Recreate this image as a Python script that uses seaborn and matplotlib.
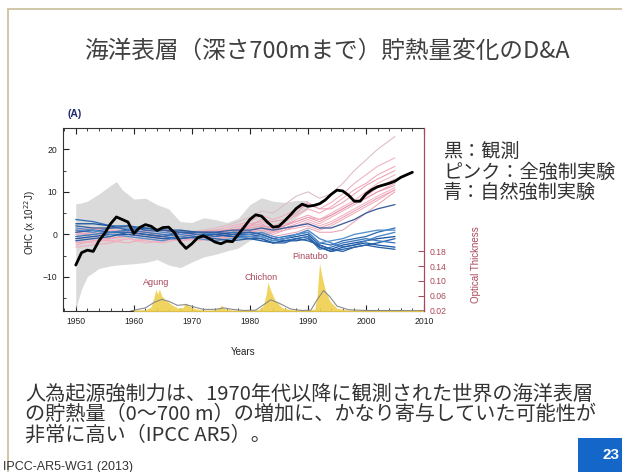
import numpy as np
import pandas as pd
import matplotlib.pyplot as plt
import seaborn as sns
from matplotlib.ticker import MultipleLocator
from matplotlib.lines import Line2D
from matplotlib.patches import Rectangle

# %%
# observed 0-700 m OHC anomaly (10^22 J)
obs_years = list(range(1950, 2009))
obs_ohc = [-7.2, -4.3, -3.7, -4.0, -1.5, 0.3, 2.5, 4.1, 3.5, 2.9,
           0.2, 1.6, 2.3, 1.9, 0.9, 1.6, 1.7, 0.4, -1.8, -3.3,
           -2.2, -0.8, -0.3, -1.0, -1.8, -2.2, -1.6, -1.7, 0.0, 1.7,
           3.5, 4.6, 4.3, 2.9, 1.7, 1.9, 3.2, 4.6, 6.1, 7.1,
           6.6, 6.8, 7.2, 8.1, 9.4, 10.4, 10.2, 9.2, 7.8, 7.8,
           9.5, 10.5, 11.2, 11.6, 12.0, 12.5, 13.4, 14.0, 14.6]

# grey observational uncertainty
env_years = [1950, 1951, 1952, 1954, 1956, 1957, 1958, 1960, 1962, 1964, 1966, 1968,
             1970, 1972, 1974, 1976, 1978, 1980, 1982, 1984, 1986, 1988, 1990]
env_upper = [7.2, 7.4, 7.8, 9.5, 11.5, 12.4, 10.5, 8.3, 8.5, 7.0, 6.0, 3.0,
             2.8, 3.9, 3.5, 2.8, 3.8, 7.0, 8.6, 7.8, 7.5, 8.0, 8.0]
env_lower = [-17.4, -12.8, -9.9, -8.0, -7.4, -7.2, -7.1, -6.9, -6.6, -5.9, -7.2, -7.8,
             -6.5, -5.3, -4.7, -3.9, -3.2, -1.4, -0.8, 0.5, 2.0, 4.0, 6.0]

# model runs
run_years = [1950, 1953, 1956, 1959, 1962, 1965, 1968, 1971, 1974, 1977, 1980, 1982,
             1984, 1986, 1988, 1990, 1992, 1994, 1996, 1998, 2000, 2002, 2005]

# all forcings (pink)
pink_01 = [-1.0, -0.5, 0.5, 1.0, 0.5, 0.0, 0.5, 0.8, 1.5, 2.5, 4.0, 5.5, 5.0, 7.0, 9.0, 10.0, 8.5, 9.5, 12.0, 15.0, 17.5, 20.0, 23.0]
pink_02 = [0.5, 0.0, -0.5, 0.5, 1.0, 0.5, 0.0, 0.5, 1.0, 2.0, 3.0, 4.5, 3.5, 4.5, 6.0, 7.0, 6.0, 7.5, 9.5, 12.0, 14.0, 16.0, 18.0]
pink_03 = [-2.0, -1.5, -1.0, -0.5, -1.0, -1.5, -0.5, 0.0, 0.5, 1.5, 2.5, 3.0, 2.0, 3.0, 4.5, 6.0, 5.0, 6.5, 8.5, 10.5, 12.0, 14.0, 16.0]
pink_04 = [1.0, 1.5, 1.0, 0.5, 0.0, -0.5, 0.5, 0.0, -0.5, 0.5, 2.0, 3.5, 3.0, 3.5, 5.0, 7.5, 6.0, 6.0, 7.5, 9.5, 11.5, 13.0, 15.0]
pink_05 = [-1.5, -2.0, -1.0, 0.0, -0.5, -1.0, -1.5, -1.0, 0.0, 0.5, 1.5, 2.0, 1.5, 2.5, 3.0, 4.0, 3.5, 5.0, 6.5, 8.0, 10.0, 12.0, 14.0]
pink_06 = [0.0, 0.5, 0.0, -0.5, 0.5, 0.0, -0.5, 0.5, 1.0, 1.0, 2.0, 2.5, 1.0, 2.0, 3.5, 4.5, 3.5, 4.5, 6.0, 7.5, 9.0, 11.0, 13.0]
pink_07 = [-3.0, -2.5, -2.0, -1.0, -1.5, -2.0, -1.0, -1.5, -1.0, 0.0, 1.0, 1.5, 0.5, 1.5, 2.5, 3.5, 2.5, 4.0, 5.5, 7.0, 8.5, 10.0, 12.0]
pink_08 = [1.0, 1.0, 0.5, 1.0, 0.5, -0.5, -1.0, -0.5, 0.0, 1.0, 1.5, 2.0, 1.5, 2.0, 3.0, 4.0, 3.0, 4.5, 6.0, 7.5, 8.5, 10.0, 11.5]
pink_09 = [-0.5, -1.0, -1.5, -1.0, -2.0, -1.5, -1.0, 0.0, -0.5, 0.0, 0.5, 1.5, 1.0, 1.5, 2.0, 3.0, 2.0, 3.0, 4.5, 6.0, 7.5, 9.0, 11.0]
pink_10 = [0.5, -0.5, -1.0, 0.0, 0.5, 1.0, 0.0, -0.5, -1.0, -0.5, 0.5, 1.0, 0.0, 1.0, 2.0, 2.5, 1.5, 2.5, 4.0, 5.5, 7.0, 8.5, 10.5]
pink_11 = [-2.5, -1.5, -1.5, -2.0, -1.0, -0.5, -1.5, -1.0, -0.5, 0.5, 1.0, 1.5, 0.5, 1.0, 1.5, 2.0, 1.0, 2.0, 3.5, 5.0, 6.5, 8.0, 10.5]
pink_12 = [0.5, 1.0, 1.5, 1.0, 0.0, -1.0, -0.5, -1.0, -1.5, -0.5, 0.0, 0.5, -0.5, 0.0, 0.5, 1.5, 0.5, 0.5, 1.0, 3.0, 5.0, 7.0, 10.0]

# natural forcings only (blue)
blue_01 = [3.5, 3.0, 2.0, 2.0, 1.5, 1.0, 0.5, 0.5, 0.0, 0.5, 0.5, 0.0, -1.0, -0.5, 0.0, 0.5, -2.0, -2.5, -1.5, -1.0, -0.5, 0.5, 1.5]
blue_02 = [2.5, 2.5, 2.0, 1.0, 1.5, 1.0, 1.0, 0.5, 0.5, 0.0, 0.0, -0.5, -1.5, -1.0, -0.5, 0.0, -2.5, -3.5, -2.5, -2.0, -1.5, -1.0, -0.5]
blue_03 = [1.0, 0.5, 1.5, 1.5, 1.0, 0.5, 0.0, 0.5, 0.0, -0.5, 0.0, 0.5, -0.5, -1.0, 0.0, 1.0, -1.0, -2.0, -3.0, -2.5, -1.5, -0.5, 0.5]
blue_04 = [0.5, 1.0, 0.5, 0.5, 0.0, -0.5, 0.5, 0.0, -0.5, 0.0, 0.5, 0.0, -1.0, -1.5, -1.0, -0.5, -3.0, -4.0, -3.5, -3.0, -2.5, -2.0, -1.0]
blue_05 = [-0.5, 0.0, 0.5, 1.0, 0.5, 0.0, -0.5, 0.0, 0.0, -0.5, -0.5, -1.0, -2.0, -1.5, -1.0, -0.5, -3.5, -3.0, -2.0, -1.5, -1.0, -1.5, -2.0]
blue_06 = [-1.0, -0.5, 0.0, 0.0, -0.5, -1.0, -1.0, -0.5, 0.0, -0.5, -1.0, -1.5, -2.0, -1.5, -1.5, -1.0, -3.0, -4.0, -3.0, -2.5, -2.0, -2.5, -3.0]
blue_07 = [1.5, 1.0, 0.0, -0.5, -1.0, -1.5, -0.5, -1.0, -1.5, -1.0, -0.5, -0.5, -1.5, -1.0, 0.0, 0.5, -2.0, -1.5, -1.0, 0.0, 0.5, 1.0, 1.0]
blue_08 = [-1.5, -1.0, -0.5, 0.5, 0.0, -0.5, -1.0, -0.5, -1.0, -1.5, -1.0, -1.0, -2.0, -2.0, -1.0, -1.5, -2.5, -3.5, -4.0, -3.0, -2.5, -3.0, -3.5]
blue_09 = [2.0, 1.5, 1.5, 2.0, 1.0, 1.0, 0.5, 0.5, 0.5, 1.0, 1.0, 1.5, 1.0, 1.5, 2.0, 2.5, 1.5, 1.5, 2.5, 3.5, 5.0, 6.0, 7.0]

# volcanic aerosol optical thickness
volc_years = [1950, 1959.5, 1960, 1962, 1963, 1963.5, 1963.8, 1964.1, 1964.4, 1964.8, 1965.5, 1966.5,
              1967.5, 1968.5, 1968.9, 1969.5, 1970.5, 1972, 1974, 1974.8, 1975.1, 1975.6, 1977, 1980,
              1981.5, 1982.3, 1982.8, 1983.1, 1983.6, 1984.3, 1985.5, 1987, 1990, 1991.2, 1991.6, 1992.0,
              1992.4, 1993, 1993.8, 1995, 1997, 2000, 2005, 2010]
volc_tau = [0.0, 0.0, 0.021, 0.022, 0.03, 0.058, 0.078, 0.064, 0.078, 0.060, 0.048, 0.036,
            0.027, 0.028, 0.041, 0.032, 0.025, 0.021, 0.022, 0.027, 0.035, 0.025, 0.021, 0.021,
            0.022, 0.033, 0.064, 0.096, 0.074, 0.049, 0.028, 0.022, 0.021, 0.024, 0.064, 0.148,
            0.114, 0.075, 0.045, 0.026, 0.021, 0.021, 0.021, 0.021]
smooth_years = [1959.5, 1962, 1963.5, 1964.8, 1966, 1967.5, 1969, 1970.5, 1972, 1974, 1975.5,
                1977, 1979, 1981, 1982.5, 1983.6, 1985, 1987, 1989, 1990.5, 1991.5, 1992.7, 1993.8,
                1995, 1997, 2000, 2005, 2010]
smooth_tau = [0.019, 0.027, 0.042, 0.050, 0.045, 0.034, 0.036, 0.029, 0.023, 0.023, 0.027,
              0.023, 0.020, 0.021, 0.037, 0.049, 0.040, 0.024, 0.020, 0.021, 0.047, 0.074, 0.057,
              0.032, 0.022, 0.020, 0.020, 0.019]

volcanoes = ["Agung", "Chichon", "Pinatubo"]
volcano_x = [1963.9, 1982.0, 1990.3]
volcano_y = [-11.2, -10.2, -5.1]

legend_lines = ["黒：観測", "ピンク：全強制実験", "青：自然強制実験"]
body_lines = ["人為起源強制力は、1970年代以降に観測された世界の海洋表層",
              "の貯熱量（0～700 m）の増加に、かなり寄与していた可能性が",
              "非常に高い（IPCC AR5）。"]

# %%
pink_runs = [pink_01, pink_02, pink_03, pink_04, pink_05, pink_06,
             pink_07, pink_08, pink_09, pink_10, pink_11, pink_12]
blue_runs = [blue_01, blue_02, blue_03, blue_04, blue_05, blue_06,
             blue_07, blue_08, blue_09]


def runs_to_frame(runs, prefix):
    frames = []
    for i, vals in enumerate(runs):
        frames.append(pd.DataFrame({"year": run_years, "ohc": vals, "run": f"{prefix}{i}"}))
    return pd.concat(frames, ignore_index=True)


pink_df = runs_to_frame(pink_runs, "all")
blue_df = runs_to_frame(blue_runs, "nat")
obs_df = pd.DataFrame({"year": obs_years, "ohc": obs_ohc})

# %%
sns.set_style("ticks", {"xtick.direction": "in", "ytick.direction": "in"})
plt.rcParams["font.family"] = ["Liberation Sans", "Noto Sans CJK JP", "DejaVu Sans"]
jp = ["Noto Sans CJK JP", "DejaVu Sans"]
red = "#a8485a"

fig = plt.figure(figsize=(6.22, 4.72), dpi=100)
ax = fig.add_axes([63 / 622, 1 - 311 / 472, 361 / 622, 183 / 472])

ax.fill_between(env_years, env_lower, env_upper, color="#dadada", lw=0, zorder=1)

pink_cols = ["#dcbcc4", "#efb0c0", "#f2a6b9", "#eaa0b4", "#f4b4c4", "#eea2b6",
             "#f0acbe", "#e89cb0", "#f3b0c1", "#ec9fb3", "#f2aabc", "#e6a4b6"]
blue_cols = ["#2f6eb5", "#1d56a0", "#4a86c8", "#2b64ac", "#3a78bd",
             "#1f5aa5", "#5590cc", "#2a62a8", "#3c5f9e"]
sns.lineplot(data=pink_df, x="year", y="ohc", hue="run", palette=pink_cols,
             legend=False, lw=0.75, ax=ax, zorder=2)
sns.lineplot(data=blue_df, x="year", y="ohc", hue="run", palette=blue_cols,
             legend=False, lw=0.95, ax=ax, zorder=3)
sns.lineplot(data=obs_df, x="year", y="ohc", color="black", lw=2.0, ax=ax, zorder=4)

for name, vx, vy in zip(volcanoes, volcano_x, volcano_y):
    ax.text(vx, vy, name, color=red, fontsize=6.5, ha="center", va="center", zorder=5)

ax.set_xlim(1947.8, 2010)
ax.set_ylim(-18, 25)
ax.xaxis.set_major_locator(MultipleLocator(10))
ax.xaxis.set_minor_locator(MultipleLocator(2))
ax.yaxis.set_major_locator(MultipleLocator(10))
ax.yaxis.set_minor_locator(MultipleLocator(5))
ax.tick_params(which="both", top=True, right=False, direction="in", colors="#222222")
ax.tick_params(which="major", length=4, width=0.8, labelsize=6.2, pad=4)
ax.tick_params(which="minor", length=2.5, width=0.6)
ax.set_xlabel("")
ax.set_ylabel("")
for s in ["left", "top", "bottom"]:
    ax.spines[s].set_linewidth(0.8)
    ax.spines[s].set_color("#333333")
ax.spines["right"].set_color(red)

# volcanic optical thickness on the right axis
ax2 = ax.twinx()
ax2.fill_between(volc_years, volc_tau, 0, color="#efd04e", lw=0, alpha=0.9)
sns.lineplot(x=smooth_years, y=smooth_tau, color="#8a8a8a", lw=0.8, ax=ax2)
ax2.set_ylim(0.0186, 0.5146)
ax2.set_yticks([0.02, 0.06, 0.10, 0.14, 0.18])
ax2.set_yticklabels(["0.02", "0.06", "0.10", "0.14", "0.18"])
ax2.tick_params(axis="y", direction="in", length=4, width=0.7, colors=red,
                labelsize=6.2, pad=4)
ax2.set_ylabel("")
ax2.spines["right"].set_color(red)
ax2.spines["right"].set_linewidth(0.8)
for s in ["left", "top", "bottom"]:
    ax2.spines[s].set_visible(False)

fig.text(67 / 622, 1 - 114 / 472, "(A)", fontsize=7.5, weight="bold",
         color="#1f2a6e", va="center")
fig.text(30 / 622, 1 - 223 / 472, "OHC (x 10$^{22}$J)", fontsize=7,
         rotation=90, ha="center", va="center", color="#222222")
fig.text(243 / 622, 1 - 352 / 472, "Years", fontsize=7, ha="center",
         va="center", color="#222222")
fig.text(476 / 622, 1 - 265 / 472, "Optical Thickness", fontsize=7, rotation=90,
         ha="center", va="center", color=red)

# slide decorations
fig.text(327 / 622, 1 - 51 / 472, "海洋表層（深さ700mまで）貯熱量変化のD&A",
         family=jp, fontsize=17, color="#404040", ha="center", va="center")
for i, line in enumerate(legend_lines):
    fig.text(443 / 622, 1 - (152 + 20 * i) / 472, line, family=jp, fontsize=13.8,
             color="#333333", ha="left", va="center")
for i, line in enumerate(body_lines):
    fig.text(25 / 622, 1 - (394 + 20.5 * i) / 472, line, family=jp, fontsize=14.5,
             color="#333333", ha="left", va="center")
fig.text(3 / 622, 1 - 467 / 472, "IPCC-AR5-WG1 (2013)", fontsize=9,
         color="#333333", ha="left", va="center")

fig.add_artist(Line2D([8 / 622, 1], [1 - 9.3 / 472, 1 - 9.3 / 472],
                      color="#cbc3a0", lw=1.3))
fig.add_artist(Line2D([8.3 / 622, 8.3 / 622], [0, 1 - 9.3 / 472],
                      color="#cbc3a0", lw=1.3))
fig.add_artist(Rectangle((578 / 622, 0), 44 / 622, 34 / 472,
                         transform=fig.transFigure, color="#1466c8", lw=0))
fig.text(611 / 622, 1 - 455 / 472, "23", fontsize=11, weight="bold",
         color="white", ha="center", va="center")

fig.savefig("out.png", dpi=100)
